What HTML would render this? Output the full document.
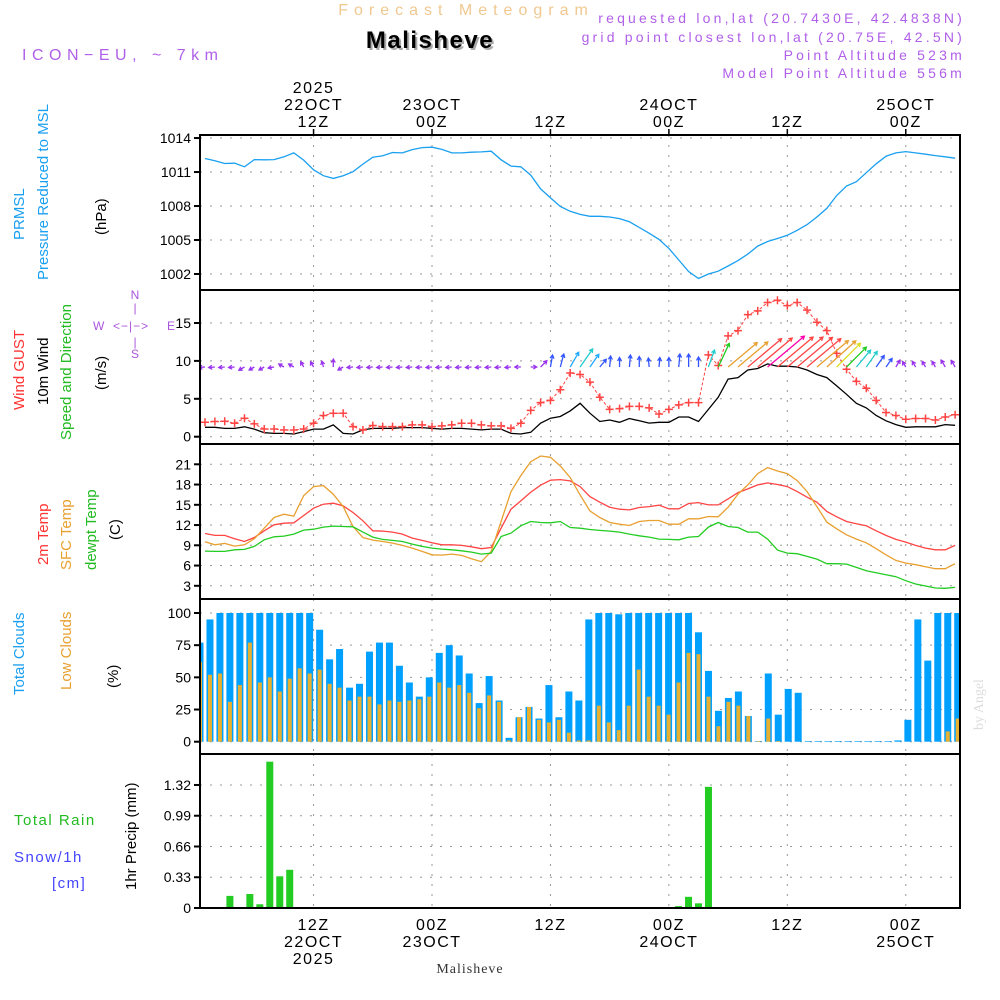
<!DOCTYPE html>
<html><head><meta charset="utf-8"><title>Meteogram Malisheve</title>
<style>
html,body{margin:0;padding:0;background:#fff;}
svg{display:block;font-family:"Liberation Sans",sans-serif;}
.tk{font-size:14px;fill:#000;}
.grid{stroke:#999;stroke-width:1;stroke-dasharray:2,8;}
</style></head>
<body>
<svg id="chart" width="1000" height="1000" viewBox="0 0 1000 1000">
<g id="header">
<text x="466" y="15" text-anchor="middle" font-size="16" fill="#f0c890" letter-spacing="6">Forecast Meteogram</text>
<text x="432" y="50" text-anchor="middle" font-size="24" font-weight="bold" fill="#aaa" letter-spacing="1.5">Malisheve</text>
<text x="430" y="48" text-anchor="middle" font-size="24" font-weight="bold" fill="#000" letter-spacing="1.5">Malisheve</text>
<text x="22" y="60" font-size="16" fill="#b060e8" letter-spacing="5.5">ICON−EU, ~ 7km</text>
<g font-size="14" fill="#b060e8" text-anchor="end" letter-spacing="3.2">
<text x="965" y="23">requested lon,lat (20.7430E, 42.4838N)</text>
<text x="965" y="42">grid point closest lon,lat (20.75E, 42.5N)</text>
<text x="965" y="60">Point Altitude 523m</text>
<text x="965" y="78">Model Point Altitude 556m</text>
</g>
</g>
<g id="leftlabels" font-size="15">
<text transform="translate(24,240) rotate(-90)" fill="#1aa0f0">PRMSL</text>
<text transform="translate(48,280) rotate(-90)" fill="#1aa0f0">Pressure Reduced to MSL</text>
<text transform="translate(106,235) rotate(-90)" fill="#000">(hPa)</text>
<text transform="translate(24,410) rotate(-90)" fill="#ff3333">Wind GUST</text>
<text transform="translate(48,405) rotate(-90)" fill="#000">10m Wind</text>
<text transform="translate(71,440) rotate(-90)" fill="#22bb22">Speed and Direction</text>
<text transform="translate(106,390) rotate(-90)" fill="#000">(m/s)</text>
<text transform="translate(48,565) rotate(-90)" fill="#ff3333">2m Temp</text>
<text transform="translate(71,570) rotate(-90)" fill="#e8a030">SFC Temp</text>
<text transform="translate(96,570) rotate(-90)" fill="#22bb22">dewpt Temp</text>
<text transform="translate(120,540) rotate(-90)" fill="#000">(C)</text>
<text transform="translate(24,695) rotate(-90)" fill="#1aa0f0">Total Clouds</text>
<text transform="translate(71,690) rotate(-90)" fill="#e8a030">Low Clouds</text>
<text transform="translate(118,688) rotate(-90)" fill="#000">(%)</text>
<text x="14" y="825" fill="#22bb22" letter-spacing="1.5">Total  Rain</text>
<text x="14" y="862" fill="#4444ff" letter-spacing="1.5">Snow/1h</text>
<text x="52" y="888" fill="#4444ff" letter-spacing="1.5">[cm]</text>
<text transform="translate(136,890) rotate(-90)" fill="#000">1hr Precip (mm)</text>
<g fill="#aa55dd" font-size="12">
<text x="135" y="299" text-anchor="middle">N</text>
<text x="135" y="312" text-anchor="middle">|</text>
<text x="93" y="330">W</text>
<text x="113" y="330" letter-spacing="1">&lt;−|−&gt;</text>
<text x="167" y="330">E</text>
<text x="135" y="346" text-anchor="middle">|</text>
<text x="135" y="358" text-anchor="middle">S</text>
</g>
<text transform="translate(983,730) rotate(-90)" fill="#ddd" font-family="Liberation Serif" font-size="14">by Angel</text>
</g>
<g id="plot"></g>
</svg>
<script>
const pressure=[1012.19,1012.0,1011.75,1011.78,1011.46,1012.1,1012.08,1012.1,1012.34,1012.69,1012.05,1011.2,1010.68,1010.44,1010.68,1011.03,1011.7,1012.31,1012.43,1012.72,1012.69,1012.98,1013.16,1013.19,1013.0,1012.69,1012.69,1012.75,1012.78,1012.84,1012.08,1011.52,1011.46,1010.73,1009.51,1008.72,1007.96,1007.53,1007.26,1007.09,1007.09,1007.03,1006.89,1006.62,1006.1,1005.6,1005.05,1004.26,1003.24,1002.22,1001.6,1002.0,1002.25,1002.71,1003.18,1003.76,1004.46,1004.87,1005.13,1005.42,1005.86,1006.36,1007.03,1007.79,1008.93,1009.77,1010.15,1010.94,1011.73,1012.4,1012.69,1012.8,1012.69,1012.57,1012.45,1012.34,1012.22];
const gust=[1.9,2.0,2.04,1.78,2.44,1.69,1.02,1.02,0.89,0.89,1.02,1.78,2.8,3.1,3.1,1.33,0.89,1.47,1.33,1.33,1.33,1.56,1.56,1.33,1.42,1.56,1.78,1.78,1.56,1.42,1.42,1.1,1.78,3.47,4.5,4.8,6.2,8.4,8.2,7.2,5.2,3.6,3.7,4.0,4.0,3.8,3.0,3.6,4.2,4.5,4.5,10.8,9.4,13.3,14.0,16.1,16.6,17.7,18.0,17.3,17.7,16.7,15.1,14.0,11.0,8.9,7.3,6.4,4.8,3.2,2.8,2.3,2.4,2.4,2.2,2.6,2.9];
const wind=[1.24,1.24,1.1,1.1,1.3,1.0,0.53,0.44,0.44,0.36,0.67,1.0,1.0,1.56,0.44,0.36,0.9,1.1,1.1,1.1,1.2,1.2,1.2,1.1,1.0,1.1,1.1,1.0,0.9,1.0,1.0,0.44,0.36,0.58,1.78,2.44,2.67,3.4,4.4,3.1,2.0,2.2,1.9,2.4,2.1,1.8,1.9,1.9,2.6,2.6,2.0,3.6,5.2,7.6,7.8,8.8,9.0,9.6,9.3,9.3,9.2,8.8,8.2,7.8,6.7,5.6,4.4,3.8,2.8,2.1,1.6,1.24,1.3,1.3,1.3,1.6,1.5];
const windDir=[265,265,265,265,240,240,240,260,300,300,330,330,345,0,240,265,265,265,265,265,265,265,265,265,265,265,265,265,265,265,265,265,270,90,45,10,15,30,35,35,40,5,0,5,0,355,5,0,5,0,0,20,25,50,50,50,50,50,50,50,50,50,50,48,45,45,40,35,35,35,30,330,330,330,330,330,330];
const t2m=[10.75,10.46,10.46,9.97,9.57,10.16,11.15,12.03,12.28,12.33,13.41,14.5,15.09,15.24,14.84,13.86,12.63,11.15,11.1,10.95,10.66,10.06,9.72,9.37,9.08,9.08,8.98,8.78,8.49,8.68,11.54,14.35,15.58,16.86,17.9,18.64,18.73,18.54,17.7,16.22,15.38,14.65,14.35,14.25,14.6,14.74,14.94,14.4,14.4,15.19,15.33,14.99,14.99,15.88,16.81,17.35,17.95,18.24,18.0,17.7,16.96,16.12,15.38,14.0,13.22,12.53,12.18,11.89,11.15,10.46,9.87,9.47,8.98,8.59,8.34,8.34,8.98];
const tsfc=[9.52,9.08,9.28,8.88,9.08,9.97,11.54,13.12,13.61,13.32,16.37,17.7,17.85,16.57,14.74,11.79,10.16,9.77,9.57,9.33,8.98,8.59,8.09,7.6,7.55,7.7,7.5,7.0,6.57,8.09,12.53,16.96,19.33,21.39,22.23,22.03,20.75,19.03,16.47,14.1,13.12,12.38,12.13,11.94,12.53,12.67,12.67,12.13,12.13,12.92,12.92,13.27,13.22,14.65,16.57,17.95,19.62,20.51,20.01,19.62,18.59,16.96,14.74,12.43,11.44,10.56,9.92,9.37,8.49,7.6,6.76,6.37,6.12,5.83,5.53,5.53,6.27];
const dewpt=[8.14,8.09,8.09,8.34,8.39,8.83,9.82,10.26,10.36,10.66,11.25,11.39,11.69,11.84,11.79,11.74,10.95,10.21,9.87,9.72,9.57,9.18,8.83,8.59,8.44,8.34,8.19,7.99,7.7,7.85,10.31,10.8,11.89,12.53,12.38,12.33,12.53,11.64,11.54,11.34,11.2,11.1,10.95,10.66,10.41,10.21,9.92,9.87,9.82,10.21,10.31,11.69,12.38,11.79,11.64,10.95,10.95,9.92,8.29,7.85,7.75,7.35,6.96,6.27,6.27,6.22,5.73,5.24,4.94,4.64,4.35,3.76,3.27,2.97,2.67,2.63,2.77];
const totalCloud=[77,95,100,100,100,100,100,100,100,100,100,100,87,64,72,42,45,70,77,77,59,46,35,50,69,75,67,53,30,51,32,3,19,27,18,44,19,39,32,95,100,100,99,100,100,100,100,100,100,100,85,55,24,34,39,20,0.5,53,21,41,38,0.5,0.5,0.5,0.5,0.5,0.5,0.5,0.5,0.5,1,17,95,63,100,100,100];
const lowCloud=[62,52,53,31,44,77,46,50,39,49,57,53,56,45,42,32,35,35,29,32,31,32,33,35,46,42,44,38,26,36,31,1,19,27,17,15,17,7,1,1,28,15,9,28,56,35,28,21,46,69,68,35,12,31,28,20,0.5,18,0.5,0,0,0,0,0,0,0,0,0,0,0,0,0,0,0,0,8,18];
const precip=[0,0,0,0.13,0,0.15,0.04,1.57,0.34,0.41,0,0,0,0,0,0,0,0,0,0,0,0,0,0,0,0,0,0,0,0,0,0,0,0,0,0,0,0,0,0,0,0,0,0,0,0,0,0,0.02,0.12,0.05,1.30,0,0,0,0,0,0,0,0,0,0,0,0,0,0,0,0,0,0,0,0,0,0,0,0,0];
const pTicks=[1002,1005,1008,1011,1014];
const wTicks=[0,5,10,15];
const tTicks=[3,6,9,12,15,18,21];
const cTicks=[0,25,50,75,100];
const rTicks=[0,0.33,0.66,0.99,1.32];
const timeTicks=[11,23,35,47,59,71];
const topLabels=[["2025","22OCT","12Z"],["","23OCT","00Z"],["","","12Z"],["","24OCT","00Z"],["","","12Z"],["","25OCT","00Z"]];
const botLabels=[["12Z","22OCT","2025"],["00Z","23OCT",""],["12Z","",""],["00Z","24OCT",""],["12Z","",""],["00Z","25OCT",""]];

const NS='http://www.w3.org/2000/svg';
const plot=document.getElementById('plot');
const X0=200,X1=960;
const xL=k=>205+9.87*k;
const xB=k=>200+9.97*k;
const yP=v=>274-(v-1002)*11.33;
const yW=v=>436.7-v*7.58;
const yT=v=>585.8-(v-3)*6.75;
const yC=v=>741.7-v*1.287;
const yR=v=>908-v*93.2;
const panels=[[135,290],[290,444],[444,599],[599,754],[754,908]];
function mk(tag,attrs,parent){const e=document.createElementNS(NS,tag);for(const a in attrs)e.setAttribute(a,attrs[a]);(parent||plot).appendChild(e);return e;}
const clip=mk('clipPath',{id:'pc'});mk('rect',{x:X0,y:135,width:X1-X0,height:773},clip);

function hgrid(ticks,yf,fmt,name,top,bot){
  ticks.forEach(v=>{const y=yf(v);
    if(y>top+3&&y<bot-3){const g=mk('line',{x1:X0,x2:X1,y1:y,y2:y,class:'grid'});
    
    }
    const tl=mk('line',{x1:X0-6,x2:X0,y1:y,y2:y,stroke:'#000','stroke-width':2});
    
    
    const t=mk('text',{x:X0-9,y:y+5,'text-anchor':'end',class:'tk'});t.textContent=fmt(v);
    
    
  });
}
hgrid(pTicks,yP,v=>String(v),'pressure',135,290);
hgrid(wTicks,yW,v=>String(v),'wind',290,444);
hgrid(tTicks,yT,v=>String(v),'temp',444,599);
hgrid(cTicks,yC,v=>String(v),'cloud',599,754);
hgrid(rTicks,yR,v=>v===0?'0':v.toFixed(2),'precip',754,908);
timeTicks.forEach((k,i)=>{const x=xL(k);
  panels.forEach(p=>{const g=mk('line',{x1:x,x2:x,y1:p[0],y2:p[1],class:'grid'});
    
    });
  mk('line',{x1:x,x2:x,y1:135,y2:129,stroke:'#000','stroke-width':1.5});
  topLabels[i].forEach((s,j)=>{if(!s)return;const t=mk('text',{x:x,y:93+j*17,'text-anchor':'middle',class:'tk',style:'font-size:16px;letter-spacing:1.5px'});t.textContent=s;
    
    });
  botLabels[i].forEach((s,j)=>{if(!s)return;const t=mk('text',{x:x,y:930+j*17,'text-anchor':'middle',class:'tk',style:'font-size:16px;letter-spacing:1.5px'});t.textContent=s;
    
    });
});
const loc=mk('text',{x:470,y:973,'text-anchor':'middle',style:'font-size:14px;letter-spacing:1px',fill:'#333','font-family':'Liberation Serif'});loc.textContent='Malisheve';



const g=mk('g',{'clip-path':'url(#pc)'});
function line(arr,yf,color,name,w){
  const d=arr.map((v,k)=>(k?'L':'M')+xL(k).toFixed(1)+','+yf(v).toFixed(1)).join('');
  const p=mk('path',{d:d,fill:'none',stroke:color,'stroke-width':w||1.3},g);
  
  
  return p;
}
totalCloud.forEach((v,k)=>{const x=xB(k);
  const r=mk('rect',{x:x-3.5,y:yC(v),width:7,height:yC(0)-yC(v),fill:'#00a0ff'},g);
  
  });
lowCloud.forEach((v,k)=>{const x=xB(k);
  const r=mk('rect',{x:x-2,y:yC(v),width:4,height:yC(0)-yC(v),fill:'#e8b030'},g);
  
  });
precip.forEach((v,k)=>{if(v<=0)return;const x=xB(k);
  const r=mk('rect',{x:x-3.5,y:yR(v),width:7,height:yR(0)-yR(v),fill:'#22cc22'},g);
  
  });
line(pressure,yP,'#1aa0f0','pressure-line');
line(t2m,yT,'#ff4444','temp-2m-line');
line(tsfc,yT,'#e8a030','temp-sfc-line');
line(dewpt,yT,'#22cc22','dewpoint-line');
line(wind,yW,'#000','wind-speed-line');
line(gust,yW,'#ff4444','gust-line',1).setAttribute('stroke-dasharray','3,2');
gust.forEach((v,k)=>{const x=xL(k),y=yW(v);
  const p=mk('path',{d:`M${x-4},${y}H${x+4}M${x},${y-4}V${y+4}`,stroke:'#ff4444','stroke-width':1.5},g);
  
  });
function wcol(s){if(s<1.8)return'#9933ee';if(s<3)return'#3355ff';if(s<3.5)return'#22aaff';if(s<4.5)return'#22cccc';if(s<6)return'#22cc22';if(s<7)return'#dddd22';if(s<8.5)return'#e8a030';if(s<9.4)return'#ff4444';return'#ff00aa';}
wind.forEach((s,k)=>{const x=xL(k),y=367,L=Math.max(6,5*s),a=windDir[k]*Math.PI/180;
  const dx=Math.sin(a)*L,dy=-Math.cos(a)*L,tx=x+dx,ty=y+dy;
  const ux=dx/L,uy=dy/L,h=4;
  const d=`M${x},${y}L${tx},${ty}M${tx-h*(ux*0.85-uy*0.5)},${ty-h*(uy*0.85+ux*0.5)}L${tx},${ty}L${tx-h*(ux*0.85+uy*0.5)},${ty-h*(uy*0.85-ux*0.5)}`;
  const p=mk('path',{d:d,fill:'none',stroke:wcol(s),'stroke-width':1.3},g);
  
  });
panels.forEach((p,i)=>{const r=mk('rect',{x:X0,y:p[0],width:X1-X0,height:p[1]-p[0],fill:'none',stroke:'#000','stroke-width':2});
  
  });
</script>
</body></html>
